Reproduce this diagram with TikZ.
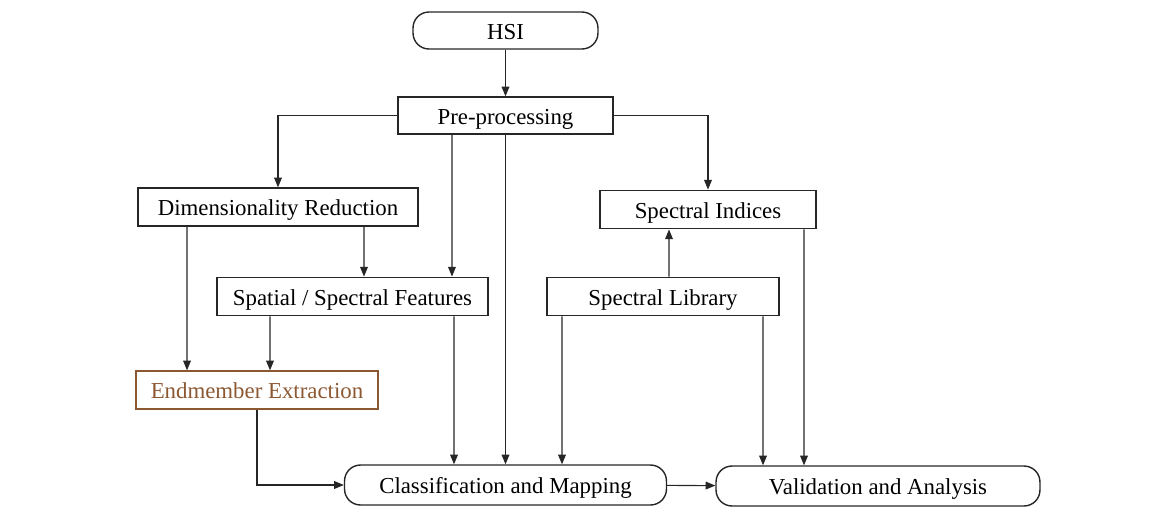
\documentclass[tikz,border=0pt]{standalone}
\usepackage{fontspec}
\setmainfont{Liberation Serif}
\usetikzlibrary{arrows.meta}
\definecolor{endbrown}{RGB}{140,88,50}
\begin{document}
\fontsize{13pt}{15pt}\selectfont
\begin{tikzpicture}[x=0.02cm,y=-0.02cm,
	box/.style={draw=black!85, line width=0.8pt, inner sep=0pt, minimum height=0.77cm, text depth=0.25ex, text height=1.9ex},
	roundbox/.style={box, rounded corners=0.32cm},
	arr/.style={draw=black!85, line width=0.6pt, -{Triangle[length=5.5pt,width=4.4pt]}}]
	\useasboundingbox (0,0) rectangle (1164,529);
	\node (HSI) at (505.5,  30.5)	[roundbox, minimum width=3.7cm, minimum height=0.74cm]	{HSI};
	\node (Pre) at (505.5, 115.5)	[box, minimum width=4.3cm, minimum height=0.74cm]	{Pre-processing};
	\node (DR)  at (278,   207)	[box, minimum width=5.6cm, minimum height=0.76cm]	{Dimensionality Reduction};
	\node (SSF) at (352.5, 296.5)	[box, minimum width=5.42cm]	{Spatial / Spectral Features};
	\node (SI)  at (708,   209.5)	[box, minimum width=4.32cm]	{Spectral Indices};
	\node (SL)  at (663,   296.5)	[box, minimum width=4.64cm]	{Spectral Library};
	\node (EE)  at (257,   390)	[box, draw=endbrown, text=endbrown, minimum width=4.84cm, minimum height=0.76cm]	{Endmember Extraction};
	\node (CM)  at (505.5, 485)	[roundbox, minimum width=6.44cm, minimum height=0.8cm]	{Classification and Mapping};
	\node (VA)  at (878,   486)	[roundbox, minimum width=6.48cm, minimum height=0.8cm]	{Validation and Analysis};
	\draw[arr] (HSI) -- (Pre);
	\draw[arr] (Pre.west) -| (DR.north);
	\draw[arr] (Pre.east) -| (SI.north);
	\draw[arr] ([xshift=-1.07cm]Pre.south) -- ([xshift=1.99cm]SSF.north);
	\draw[arr] (Pre.south) -- (CM.north);
	\draw[arr] ([xshift=-1.82cm]DR.south) -- ([xshift=-1.4cm]EE.north);
	\draw[arr] ([xshift=1.72cm]DR.south) -- ([xshift=0.23cm]SSF.north);
	\draw[arr] ([xshift=-1.65cm]SSF.south) -- ([xshift=0.26cm]EE.north);
	\draw[arr] ([xshift=2.03cm]SSF.south) -- ([xshift=-1.03cm]CM.north);
	\draw[arr] ([xshift=0.12cm]SL.north) -- ([xshift=-0.78cm]SI.south);
	\draw[arr] ([xshift=-2.02cm]SL.south) -- ([xshift=1.13cm]CM.north);
	\draw[arr] ([xshift=2cm]SL.south) -- ([xshift=-2.3cm]VA.north);
	\draw[arr] ([xshift=1.92cm]SI.south) -- ([xshift=-1.48cm]VA.north);
	\draw[arr] (EE.south) |- (CM.west);
	\draw[arr] (CM) -- (VA);
\end{tikzpicture}
\end{document}
